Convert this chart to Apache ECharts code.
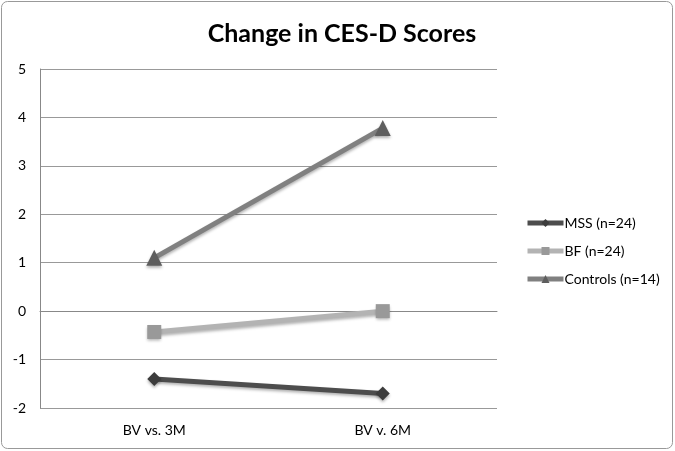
<!DOCTYPE html>
<html><head><meta charset="utf-8">
<script src="https://cdn.jsdelivr.net/npm/echarts@6/dist/echarts.min.js"></script>
<style>html,body{margin:0;padding:0;background:#fff}#c{width:675px;height:451px}</style>
</head><body><div id="c"></div>
<script>
const categories = ['BV vs. 3M', 'BV v. 6M'];
const mss = [-1.4, -1.7];
const bf = [-0.43, 0.0];
const controls = [1.1, 3.78];
const seriesNames = ['MSS (n=24)', 'BF (n=24)', 'Controls (n=14)'];

const chart = echarts.init(document.getElementById('c'));
const font = 'Lato, "Open Sans", sans-serif';
function mk(name, data, lineColor, markColor, symbol, size) {
  return {
    name, type: 'line', data, symbol, symbolSize: size,
    lineStyle: {width: 5, color: lineColor, shadowColor: 'rgba(0,0,0,0.3)', shadowBlur: 3, shadowOffsetY: 2},
    itemStyle: {color: markColor, shadowColor: 'rgba(0,0,0,0.3)', shadowBlur: 3, shadowOffsetY: 2},
    emphasis: {disabled: true}
  };
}
chart.setOption({
  animation: false,
  title: {text: 'Change in CES-D Scores', left: 337, top: 16, textAlign: 'center',
    textStyle: {fontFamily: font, fontSize: 25, fontWeight: 'bold', color: '#000'}},
  grid: {left: 40, right: 178, top: 69, bottom: 43},
  xAxis: {type: 'category', data: categories, boundaryGap: true,
    axisLine: {lineStyle: {color: '#888', width: 1}}, axisTick: {show: false},
    axisLabel: {color: '#000', fontFamily: font, fontSize: 14, margin: 15}},
  yAxis: {type: 'value', min: -2, max: 5, interval: 1,
    axisLine: {show: true, lineStyle: {color: '#888', width: 1}}, axisTick: {show: false},
    splitLine: {lineStyle: {color: '#999', width: 1}},
    axisLabel: {color: '#000', fontFamily: font, fontSize: 14, margin: 14}},
  legend: {orient: 'vertical', left: 520, top: 211, itemGap: 14, itemWidth: 36, itemHeight: 10,
    lineStyle: {width: 5},
    textStyle: {fontFamily: font, fontSize: 14, color: '#000', padding: [0,0,0,-4]},
    data: seriesNames},
  series: [
    mk(seriesNames[0], mss, '#4d4d4d', '#3c3c3c', 'diamond', 14),
    mk(seriesNames[1], bf, '#b3b3b3', '#999999', 'rect', 14),
    mk(seriesNames[2], controls, '#808080', '#5e5e5e', 'triangle', 16)
  ],
  graphic: [{type: 'rect', shape: {x: 1.5, y: 1.5, width: 671, height: 447, r: 6},
    style: {fill: null, stroke: '#999', lineWidth: 1}, silent: true}]
});
</script></body></html>
